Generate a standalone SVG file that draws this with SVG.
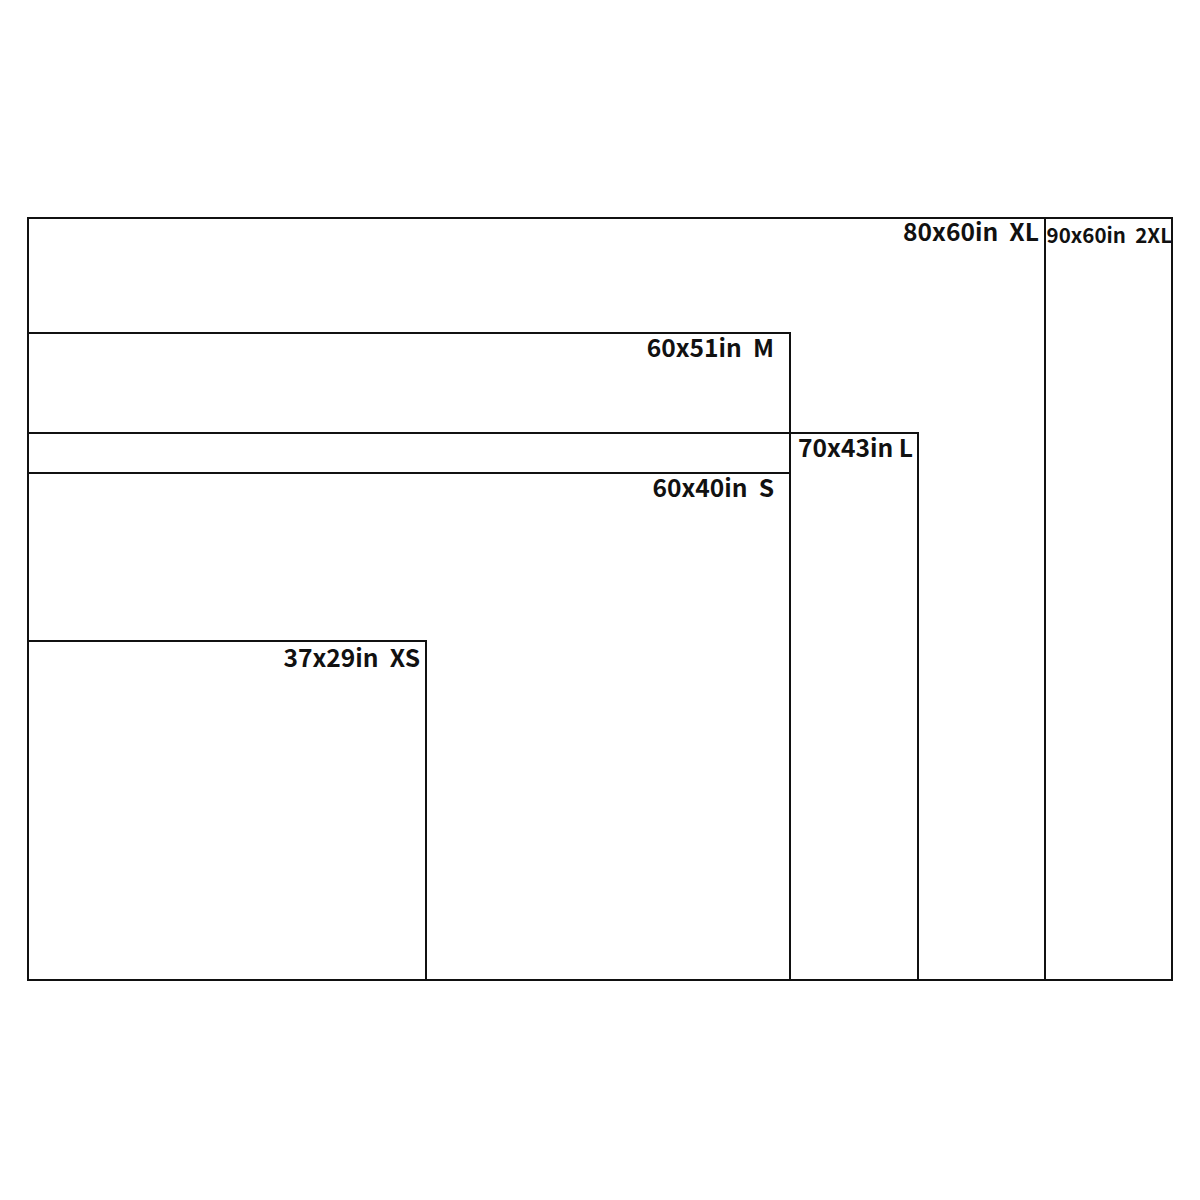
<svg xmlns="http://www.w3.org/2000/svg" width="1200" height="1200" viewBox="0 0 1200 1200">
<style>
.r{fill:none;stroke:#111;stroke-width:2}
.t{font-family:"Noto Sans CJK SC","Noto Sans",sans-serif;font-weight:bold;font-size:24.6px;fill:#111;text-anchor:end;white-space:pre}
</style>
<rect width="1200" height="1200" fill="#fff"/>
<g id="size-2xl"><rect class="r" x="28" y="218" width="1144" height="762"/><text class="t" x="1172" y="243" style="font-size:20.5px" xml:space="preserve">90x60in  2XL</text></g>
<g id="size-xl"><rect class="r" x="28" y="218" width="1017" height="762"/><text class="t" x="1039" y="241" xml:space="preserve">80x60in  XL</text></g>
<g id="size-m"><rect class="r" x="28" y="333" width="762" height="647"/><text class="t" x="774" y="357" xml:space="preserve">60x51in  M</text></g>
<g id="size-l"><rect class="r" x="28" y="433" width="890" height="547"/><text class="t" x="913" y="457">70x43in L</text></g>
<g id="size-s"><rect class="r" x="28" y="473" width="762" height="507"/><text class="t" x="774" y="497" xml:space="preserve">60x40in  S</text></g>
<g id="size-xs"><rect class="r" x="28" y="641" width="398" height="339"/><text class="t" x="420" y="667" xml:space="preserve">37x29in  XS</text></g>
<g id="connectors"/>
</svg>
